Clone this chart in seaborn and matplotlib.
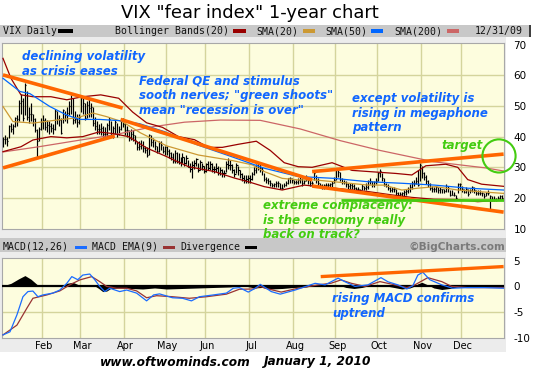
import numpy as np
import matplotlib
matplotlib.use("Agg")
import matplotlib.pyplot as plt
import seaborn as sns
from matplotlib.patches import Rectangle

# VIX daily bars for 2009, indexed by trading day (0..251), one row per month
vix_low = [36.5, 37.5, 37.0, 39.5, 41.5, 41.0, 43.0, 43.5, 45.0, 47.5, 45.0, 47.0, 45.5, 44.5, 45.0, 43.5, 41.5, 33.5, 38.5, 42.0,
           42.5, 42.0, 41.5, 41.0, 41.5, 41.0, 42.0, 44.0, 43.5, 41.0, 44.5, 45.0, 44.5, 47.0, 47.5, 44.0, 44.5, 43.0, 44.0,
           48.0, 47.5, 45.5, 46.0, 46.5, 46.5, 43.5, 42.0, 41.0, 41.0, 40.5, 40.0, 39.5, 40.0, 42.0, 40.0, 39.5, 41.0, 40.0, 40.5, 42.0, 43.0,
           40.5, 40.0, 38.5, 39.0, 38.5, 37.5, 35.5, 35.5, 36.0, 35.0, 34.5, 33.5, 34.0, 37.0, 36.5, 35.5, 34.5, 35.0, 35.5, 34.5, 34.0,
           34.0, 33.0, 32.5, 31.5, 31.5, 31.5, 31.0, 30.5, 31.5, 30.5, 31.0, 30.0, 28.5, 26.5, 29.5, 30.5, 28.5, 29.0, 29.0, 28.0,
           28.5, 29.0, 29.0, 28.5, 28.0, 28.5, 27.5, 27.5, 27.0, 27.0, 28.5, 29.5, 29.0, 28.0, 27.0, 28.0, 27.5, 26.5, 25.5, 25.0, 25.0, 25.0,
           25.0, 26.0, 27.5, 28.0, 29.0, 28.5, 27.5, 25.5, 25.0, 24.5, 24.0, 23.5, 23.5, 23.5, 23.5, 23.0, 23.0, 23.5, 24.0, 24.5, 25.0, 25.0,
           24.5, 24.5, 24.5, 25.0, 24.0, 24.5, 25.5, 24.5, 24.0, 24.0, 26.0, 25.0, 24.0, 23.5, 23.0, 23.0, 23.5, 23.5, 23.5, 23.5, 25.0,
           26.0, 27.0, 25.5, 24.5, 24.5, 23.5, 23.0, 23.0, 23.0, 22.5, 22.0, 22.0, 22.0, 22.5, 22.5, 22.5, 23.0, 24.5, 23.5, 23.5, 24.5,
           25.5, 27.0, 25.5, 24.0, 23.5, 22.5, 22.0, 22.0, 22.0, 21.0, 20.5, 20.5, 20.5, 20.5, 21.0, 21.5, 22.0, 23.0, 24.0, 24.5, 24.0, 25.5,
           26.5, 26.0, 24.5, 23.5, 22.5, 22.0, 22.0, 22.0, 21.5, 21.5, 21.5, 21.5, 22.0, 22.0, 20.5, 21.0, 20.5, 19.5, 21.5, 22.5,
           22.0, 21.5, 21.5, 20.5, 21.5, 22.0, 21.5, 21.0, 21.0, 21.0, 20.5, 20.0, 20.5, 21.0, 16.2, 19.0, 19.0, 19.0, 19.5, 19.5, 19.5, 20.5]
vix_high = [40.0, 40.5, 40.0, 43.8, 44.5, 44.0, 46.5, 47.0, 52.0, 54.0, 52.5, 57.4, 55.0, 49.5, 51.0, 47.5, 46.0, 42.5, 43.0, 46.0,
            47.0, 46.0, 45.5, 45.0, 44.5, 44.0, 49.0, 48.5, 47.0, 46.0, 49.0, 48.5, 49.5, 51.5, 53.5, 52.5, 48.5, 47.5, 47.5,
            53.5, 53.0, 51.0, 51.5, 52.5, 51.0, 49.5, 46.5, 45.0, 44.0, 44.5, 43.5, 43.0, 44.5, 46.5, 45.0, 43.5, 45.5, 44.5, 43.5, 46.0, 46.0,
            44.5, 43.5, 42.0, 42.5, 42.0, 40.5, 38.5, 38.5, 39.0, 38.5, 37.0, 36.5, 40.8, 40.5, 39.5, 38.5, 37.0, 38.5, 38.5, 37.0, 37.0,
            37.0, 36.0, 35.0, 34.5, 35.5, 35.0, 34.5, 33.5, 34.5, 33.5, 34.0, 32.5, 31.5, 32.0, 32.5, 33.0, 31.5, 32.5, 31.5, 30.5,
            31.5, 32.0, 32.0, 31.5, 30.5, 31.5, 30.5, 30.0, 29.5, 29.0, 32.0, 33.0, 32.5, 31.0, 29.5, 31.5, 30.5, 29.0, 28.0, 27.5, 27.5, 27.5,
            27.5, 28.5, 30.0, 31.0, 31.5, 31.0, 30.0, 28.0, 27.0, 26.5, 26.0, 25.0, 25.0, 25.5, 25.5, 25.0, 24.5, 25.0, 25.5, 26.5, 27.0, 26.5,
            26.0, 26.0, 26.5, 27.0, 26.5, 26.0, 27.5, 27.0, 26.0, 25.5, 29.0, 27.5, 26.5, 25.0, 24.5, 24.5, 25.0, 25.0, 25.0, 25.5, 27.0,
            29.5, 29.8, 28.5, 26.5, 26.0, 25.5, 25.0, 25.0, 25.0, 24.5, 23.5, 23.5, 23.0, 24.5, 24.0, 25.0, 26.0, 26.5, 25.5, 25.5, 26.5,
            28.5, 29.5, 28.0, 26.5, 25.0, 24.5, 23.5, 23.5, 23.5, 23.0, 22.0, 22.0, 22.0, 22.5, 23.0, 23.5, 24.5, 25.5, 26.0, 27.0, 29.0, 31.5,
            30.5, 28.5, 27.5, 26.0, 25.0, 24.0, 23.5, 24.0, 23.5, 23.5, 23.0, 23.0, 24.5, 24.0, 22.5, 22.5, 22.0, 21.0, 25.0, 25.0,
            24.0, 23.0, 23.5, 23.0, 23.0, 24.0, 23.5, 22.5, 22.5, 22.5, 22.0, 21.5, 22.0, 22.5, 21.0, 20.5, 20.5, 20.0, 20.5, 21.0, 21.0, 22.0]
vix_close = [39.2, 39.1, 38.6, 43.4, 42.6, 43.3, 46.1, 45.8, 51.0, 51.7, 46.1, 56.7, 46.4, 47.3, 47.3, 45.7, 42.3, 38.7, 42.6, 44.8,
             45.5, 43.1, 43.7, 43.4, 42.8, 42.6, 48.4, 45.8, 45.4, 41.3, 48.7, 47.2, 47.6, 49.9, 52.6, 45.5, 45.7, 44.7, 46.4,
             52.6, 50.9, 46.0, 50.2, 49.3, 49.7, 44.4, 43.6, 42.4, 42.4, 42.8, 40.9, 40.9, 43.7, 45.9, 40.5, 42.9, 44.7, 41.0, 42.6, 45.5, 44.1,
             42.3, 42.0, 39.7, 40.9, 40.5, 39.0, 36.5, 37.0, 37.4, 36.4, 35.8, 33.9, 40.6, 38.1, 38.8, 36.8, 35.2, 37.9, 37.2, 35.4, 36.5,
             35.3, 34.5, 33.4, 32.1, 34.7, 32.1, 31.8, 31.8, 33.5, 31.4, 33.1, 30.2, 29.5, 30.8, 31.4, 32.6, 29.0, 31.6, 30.3, 28.9,
             31.0, 29.9, 31.0, 29.3, 29.6, 29.8, 28.2, 29.2, 28.2, 28.2, 31.0, 30.8, 30.8, 29.0, 27.9, 30.8, 29.0, 27.7, 26.4, 25.9, 26.2, 26.4,
             26.2, 27.9, 29.0, 30.9, 31.3, 29.8, 29.0, 26.3, 26.0, 25.4, 25.0, 24.3, 24.4, 24.9, 24.8, 23.4, 23.1, 24.3, 25.0, 26.4, 26.4, 25.9,
             25.3, 25.1, 25.9, 26.2, 25.0, 25.4, 26.9, 25.9, 25.0, 25.0, 28.0, 25.9, 25.0, 24.1, 23.3, 24.1, 24.2, 24.3, 24.4, 24.8, 26.0,
             29.2, 28.5, 26.3, 25.3, 25.3, 24.4, 23.8, 24.2, 24.0, 23.4, 23.0, 23.0, 22.5, 23.9, 23.3, 23.6, 25.6, 25.6, 24.2, 25.3, 25.6,
             28.3, 28.7, 26.4, 24.6, 24.0, 23.1, 22.5, 23.0, 23.0, 21.7, 21.1, 21.4, 21.5, 22.0, 22.4, 22.8, 23.6, 24.8, 24.9, 25.6, 24.2, 30.7,
             28.0, 27.0, 25.5, 24.5, 23.2, 23.0, 22.8, 23.5, 22.7, 22.9, 22.8, 22.2, 23.9, 23.2, 21.0, 21.0, 21.0, 20.0, 24.7, 24.5,
             22.9, 22.0, 23.0, 21.3, 22.6, 23.7, 22.5, 21.6, 21.6, 21.5, 21.5, 20.5, 21.7, 21.7, 20.5, 19.5, 19.7, 19.5, 20.0, 20.5, 20.0, 21.7]

# indicator lines: (trading day, value)
sma20_t = [0, 5, 15, 27, 37, 45, 52, 60, 69, 82, 98, 115, 125, 131, 140, 148, 156, 166, 183, 191, 200, 208, 217, 228, 238, 251]
sma20 = [49.8, 44.9, 44.4, 45.4, 46.1, 47.7, 46.5, 44.8, 41.2, 37.0, 34.0, 32.2, 30.8, 28.6, 26.4, 25.9, 25.9, 25.3, 24.2, 24.2,
         22.6, 23.2, 23.7, 22.6, 22.1, 21.5]
sma50_t = [0, 8.5, 13.5, 23.5, 32, 38.5, 48.5, 58.5, 68.5, 81, 97.5, 114.5, 131, 148, 166, 183, 200, 216.5, 233, 251]
sma50 = [59.0, 54.7, 54.0, 49.8, 47.0, 45.6, 45.6, 45.2, 44.2, 41.6, 37.3, 33.5, 29.7, 27.0, 26.4, 25.3, 24.8, 24.2, 23.2, 22.6]
sma200_t = [0, 18, 38, 55, 75, 91, 109, 129, 149, 169, 189, 216, 242, 251]
sma200 = [35.0, 36.7, 38.8, 40.5, 43.2, 44.7, 45.4, 45.3, 42.5, 38.7, 35.5, 31.8, 29.8, 28.8]
bb_up_t = [0, 4, 9, 15, 24, 32, 40, 49, 58, 65, 72, 80, 88, 96, 103, 110, 118, 127, 134, 141, 148, 155, 165, 175, 186,
           197, 205, 212, 222, 228, 233, 240, 251]
bb_up = [65.5, 59.0, 53.6, 53.0, 53.0, 52.0, 53.0, 53.6, 52.5, 48.0, 44.5, 43.0, 40.0, 39.0, 36.5, 36.5, 37.5, 38.5, 35.5,
         31.5, 30.2, 30.0, 31.5, 29.0, 28.5, 28.0, 27.5, 30.5, 31.0, 30.0, 26.0, 24.5, 23.8]
bb_lo_t = [0, 9, 15, 24, 32, 40, 48, 55, 63, 72, 82, 93, 106, 116, 123, 131, 140, 151, 166, 183, 195, 205, 216, 228, 238, 251]
bb_lo = [35.1, 36.7, 38.9, 40.0, 39.6, 40.0, 41.5, 41.0, 40.0, 36.3, 33.5, 30.2, 28.6, 26.5, 25.3, 23.7, 22.6, 24.2, 23.2,
         22.1, 21.0, 20.2, 19.6, 19.5, 18.8, 19.3]

macd_t = [0, 3.5, 7, 10, 12.5, 15, 17.5, 20, 25, 28.5, 32, 34.5, 37.5, 40, 43.5, 46, 48.5, 51, 53.5, 58.5, 62, 67, 72, 75.5,
          78.5, 85, 90, 94.5, 98.5, 105.5, 112, 115.5, 118.5, 123, 126.5, 129, 134.5, 139, 146.5, 156.5, 161.5, 168, 171.5,
          176.5, 183, 189.5, 193, 198, 202.5, 205.5, 208, 210.5, 214, 220, 225.5, 233, 241.5, 251]
macd = [-9.4, -8.8, -5.5, -2.0, -1.0, -0.9, -2.0, -1.65, -1.3, -0.7, 0.6, 1.9, 1.3, 2.2, 2.4, 1.3, 0.0, -1.0, -0.35, -1.0,
        -0.7, -1.3, -2.8, -1.65, -1.45, -2.2, -2.3, -2.8, -2.0, -1.65, -1.3, -0.35, -0.23, -1.1, -0.35, 0.4, -1.0, -1.5, -0.7,
        0.6, 0.3, 1.6, 0.9, 0.0, 0.3, 1.7, 0.9, 0.3, -0.5, 0.15, 2.2, 2.75, 1.3, 0.3, -0.35, -0.23, -0.23, -0.35]
signal_t = [0, 7, 12, 15, 22, 28.5, 33.5, 38.5, 44.5, 48.5, 52, 57, 62, 67, 72, 77, 85, 93.5, 102, 112, 118.5, 125.5, 129,
            131.5, 139.5, 148, 158, 164.5, 169.5, 174.5, 181.5, 189, 196.5, 202.5, 206.5, 213, 220, 225, 233, 251]
signal = [-9.4, -7.5, -4.2, -2.3, -1.65, -0.87, 0.3, 1.26, 1.9, 0.93, 0.0, -0.35, -0.35, -0.87, -2.2, -1.8, -2.0, -2.3, -2.0,
          -1.5, -0.55, -0.5, 0.0, -0.35, -1.1, -0.35, 0.3, 0.62, 1.26, 0.62, 0.0, 0.93, 0.3, -0.23, 0.3, 1.7, 0.93, 0.0, -0.23, -0.23]
div_t = [0, 4, 8, 11, 14, 17, 19, 30, 32, 35, 38, 44, 46, 48, 50, 52, 54, 58, 64, 70, 76, 82, 90, 98, 106, 114, 120, 126,
         130, 134, 140, 146, 152, 156, 160, 164, 168, 172, 176, 180, 184, 188, 192, 196, 200, 204, 206, 208, 210, 213, 216,
         220, 224, 228, 236, 244, 251]
div = [0.1, 0.6, 1.5, 2.1, 1.4, 0.4, 0.0, 0.2, 0.6, 0.8, 0.3, 0.2, 0.1, -0.4, -1.0, -0.9, -0.4, -0.3, -0.4, -0.5, -0.3, -0.5,
       -0.4, -0.3, -0.2, -0.1, 0.2, -0.3, -0.2, -0.5, -0.4, -0.2, -0.1, 0.2, 0.3, 0.1, 0.3, -0.2, -0.4, -0.2, 0.2, 0.3, 0.1,
       -0.2, -0.5, -0.3, 0.0, 0.5, 0.8, 0.3, -0.3, -0.6, -0.4, -0.1, 0.0, 0.05, -0.05]

# hand-drawn trend lines (trading day, value)
trend_top_t, trend_top = [0, 60], [60.1, 49.3]
trend_bottom_t, trend_bottom = [0, 56], [29.8, 40.2]
trend_mid_t, trend_mid = [59, 155], [45.6, 25.9]
mega_up_t, mega_up = [155, 251], [28.6, 34.3]
mega_lo_t, mega_lo = [155, 251], [23.9, 15.4]
support_t, support = [169.5, 251], [19.35, 19.35]
target_t, target_v = 248.7, 33.7
macd_trend_t, macd_trend = [159.3, 251], [1.9, 3.85]

month_names = ['Feb', 'Mar', 'Apr', 'May', 'Jun', 'Jul', 'Aug', 'Sep', 'Oct', 'Nov', 'Dec']
month_start = [20, 39, 61, 82, 102, 124, 146, 167, 188, 210, 230]
price_ticks = [10, 20, 30, 40, 50, 60, 70]
macd_ticks = [-10, -5, 0, 5]

ORANGE = '#ff6600'
BLUE_TXT = '#1166ff'
GREEN = '#44cc11'
GRID = '#d4d49c'

plt.rcParams['font.family'] = ['DejaVu Sans']
plt.rcParams['axes.unicode_minus'] = False
fig = plt.figure(figsize=(5.34, 3.70), dpi=100)


def fx(x):
    return x / 534


def fy(y):
    return 1 - y / 370


def box(x0, y0, x1, y1, color, z=-1):
    fig.add_artist(Rectangle((fx(x0), fy(y1)), (x1 - x0) / 534, (y1 - y0) / 370,
                             transform=fig.transFigure, facecolor=color, edgecolor='none', zorder=z))


def line(a, t, v, color, lw=0.9):
    sns.lineplot(x=t, y=v, ax=a, color=color, lw=lw, zorder=4, legend=False)


# panels behind the plots
box(0, 36, 506, 352, '#ececec')
box(0, 24.5, 529, 36.5, '#c8c8c8', 0.5)
box(529, 24.5, 531, 37, '#404040', 0.5)
box(0, 238, 506, 252, '#c8c8c8', 0.5)

days = np.arange(len(vix_close))
bounds = [m - 0.5 for m in month_start]

# ---- price panel ----
ax = fig.add_axes([fx(2), fy(229), 502 / 534, 186 / 370])
ax.set_facecolor('#fdfdde')
ax.set_xlim(-0.5, 251.2)
ax.set_ylim(9.9, 70.5)
for y in price_ticks[1:-1]:
    ax.axhline(y, color=GRID, lw=1.0, zorder=1)

ax.vlines(days, vix_low, vix_high, color='black', lw=0.85, zorder=3)
ax.hlines(vix_close, days, days + 0.6, color='black', lw=0.85, zorder=3)

line(ax, sma200_t, sma200, '#cc6666')
line(ax, bb_up_t, bb_up, '#990000')
line(ax, bb_lo_t, bb_lo, '#990000')
line(ax, sma20_t, sma20, '#cc9933')
line(ax, sma50_t, sma50, '#0066ff')

for t, v in [(trend_top_t, trend_top), (trend_bottom_t, trend_bottom), (trend_mid_t, trend_mid),
             (mega_up_t, mega_up), (mega_lo_t, mega_lo)]:
    ax.plot(t, v, color=ORANGE, lw=2.6, solid_capstyle='butt', zorder=5)
ax.plot(support_t, support, color=GREEN, lw=2.0, solid_capstyle='butt', zorder=5)
ax.scatter([target_t], [target_v], s=570, facecolors='none', edgecolors=GREEN, linewidths=1.5,
           clip_on=False, zorder=6)

ax.set_yticks(price_ticks)
ax.set_yticklabels([str(v) for v in price_ticks])
ax.yaxis.tick_right()

# ---- MACD panel ----
ax2 = fig.add_axes([fx(2), fy(338), 502 / 534, (338 - 258.3) / 370])
ax2.set_facecolor('#fdfdde')
ax2.set_xlim(-0.5, 251.2)
ax2.set_ylim(-10, 5.45)
ax2.axhline(-5, color=GRID, lw=1.0, zorder=1)
ax2.fill_between(div_t, 0, div, color='black', lw=0, zorder=3)
ax2.axhline(0, color='black', lw=1.6, zorder=3)
line(ax2, signal_t, signal, '#993333')
line(ax2, macd_t, macd, '#1a6cff')
ax2.plot(macd_trend_t, macd_trend, color=ORANGE, lw=2.4, solid_capstyle='butt', zorder=5)
ax2.set_yticks(macd_ticks)
ax2.set_yticklabels([str(v) for v in macd_ticks])
ax2.yaxis.tick_right()
ax2.set_xticks([m + 0.5 for m in month_start], minor=True)
ax2.set_xticklabels(month_names, minor=True)
ax2.tick_params(axis='x', which='minor', length=0, pad=2.5, labelsize=7)

for a in (ax, ax2):
    a.set_xticks(bounds)
    a.tick_params(axis='x', which='major', length=0, labelbottom=False)
    a.grid(True, axis='x', which='major', color=GRID, lw=1.0, zorder=1)
    a.set_axisbelow(True)
    a.tick_params(axis='y', length=0, pad=6.8, labelsize=7.5)
    a.set_xlabel('')
    a.set_ylabel('')
    for s in a.spines.values():
        s.set_color('#a8a8a8')
        s.set_linewidth(0.8)

# ---- legend strips ----
mono = dict(family='DejaVu Sans Mono', fontsize=7.1, va='center', ha='left', color='#111111')
fig.text(fx(3), fy(31), 'VIX Daily', **mono)
fig.text(fx(115), fy(31), 'Bollinger Bands(20)', **mono)
fig.text(fx(256), fy(31), 'SMA(20)', **mono)
fig.text(fx(325), fy(31), 'SMA(50)', **mono)
fig.text(fx(394), fy(31), 'SMA(200)', **mono)
fig.text(fx(475), fy(31), '12/31/09', **mono)
for x0, x1, c in [(58, 73, 'black'), (233, 246, '#990000'), (303, 315, '#cc9933'),
                  (371, 383, '#0066ff'), (447, 459, '#cc6666')]:
    box(x0, 29.5, x1, 33, c, 1)

fig.text(fx(3), fy(246.5), 'MACD(12,26)', **mono)
fig.text(fx(92), fy(246.5), 'MACD EMA(9)', **mono)
fig.text(fx(180), fy(246.5), 'Divergence', **mono)
for x0, x1, c in [(75, 87, '#1a6cff'), (163, 175, '#993333'), (245, 257, 'black')]:
    box(x0, 245.5, x1, 249, c, 1)
fig.text(fx(505), fy(246.5), '\u00a9BigCharts.com', fontsize=7.6, fontweight='bold',
         color='#7a7a7a', ha='right', va='center')

# ---- title, notes, footer ----
fig.text(fx(250), fy(13), 'VIX "fear index" 1-year chart', fontsize=12.9, ha='center', va='center')

note = dict(fontsize=8.5, fontweight='bold', style='italic', ha='left', va='center', linespacing=1.15)
fig.text(fx(22), fy(64), 'declining volatility\nas crisis eases', color=BLUE_TXT, **note)
fig.text(fx(139), fy(96), 'Federal QE and stimulus\nsooth nerves; "green shoots"\nmean "recession is over"',
         color=BLUE_TXT, **note)
fig.text(fx(352), fy(113), 'except volatility is\nrising in megaphone\npattern', color=BLUE_TXT, **note)
fig.text(fx(441), fy(145), 'target', color=GREEN, **note)
fig.text(fx(263), fy(220.5), 'extreme complacency:\nis the economy really\nback on track?', color=GREEN, **note)
fig.text(fx(332), fy(306), 'rising MACD confirms\nuptrend', color=BLUE_TXT, **note)

foot = dict(fontsize=8.7, fontweight='bold', style='italic', ha='left', va='center', color='black')
fig.text(fx(100), fy(362), 'www.oftwominds.com', **foot)
fig.text(fx(263), fy(362), 'January 1, 2010', **foot)

fig.savefig('out.png', dpi=100)
